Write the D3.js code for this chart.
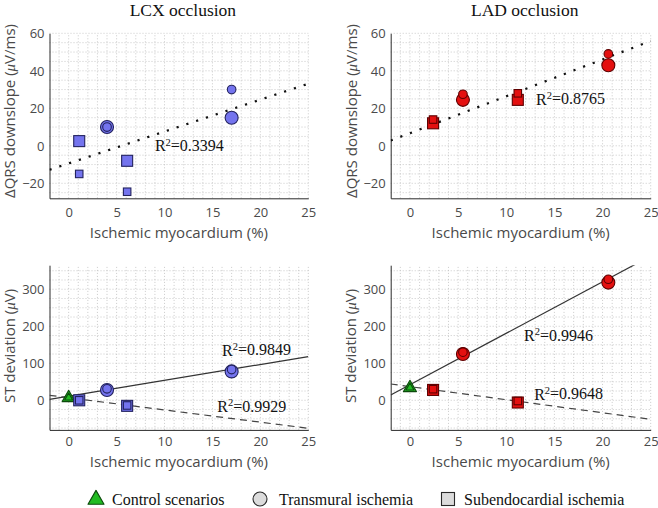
<!DOCTYPE html>
<html><head><meta charset="utf-8">
<script src="https://cdn.jsdelivr.net/npm/d3@7"></script>
<style>body{margin:0;background:#fff;} svg{display:block;}</style>
</head><body><svg id="c" width="658" height="508"></svg>
<script>
// ---------------- data ----------------
const xTicks = [0, 5, 10, 15, 20, 25];
const qrsTicks = [-20, 0, 20, 40, 60];
const stTicks = [0, 100, 200, 300];

const lcxQrsX = [1.1, 1.1, 4.0, 4.0, 6.1, 6.1, 17.0, 17.0];
const lcxQrsY = [2.5, -15, 10, 10, -8, -24.5, 15, 30];
const lcxQrsShape = ["square", "square", "circle", "circle", "square", "square", "circle", "circle"];
const lcxQrsSize = ["large", "small", "large", "small", "large", "small", "large", "small"];
const lcxQrsFit = [1.70, -9.4];          // slope, intercept
const lcxQrsR2 = "0.3394";

const ladQrsX = [2.4, 2.4, 5.5, 5.5, 11.2, 11.2, 20.6, 20.6];
const ladQrsY = [12, 14, 24.5, 27.5, 24.5, 28, 43, 49];
const ladQrsShape = ["square", "square", "circle", "circle", "square", "square", "circle", "circle"];
const ladQrsSize = ["large", "small", "large", "small", "large", "small", "large", "small"];
const ladQrsFit = [1.967, 6.73];
const ladQrsR2 = "0.8765";

const lcxStX = [0, 0, 1.1, 1.1, 4.0, 4.0, 6.1, 6.1, 17.0, 17.0];
const lcxStY = [8, 8, 0, 0, 28, 31, -15, -14, 78, 83];
const lcxStShape = ["triangle", "triangle", "square", "square", "circle", "circle", "square", "square", "circle", "circle"];
const lcxStSize = ["large", "small", "large", "small", "large", "small", "large", "small", "large", "small"];
const lcxStTransFit = [4.28, 11.1];
const lcxStSubFit = [-3.3, 6.9];
const lcxStTransR2 = "0.9849";
const lcxStSubR2 = "0.9929";

const ladStX = [0, 0, 2.4, 2.4, 5.5, 5.5, 11.2, 11.2, 20.6, 20.6];
const ladStY = [35, 35, 28, 30, 125, 130, -6, -2, 318, 327];
const ladStShape = ["triangle", "triangle", "square", "square", "circle", "circle", "square", "square", "circle", "circle"];
const ladStSize = ["large", "small", "large", "small", "large", "small", "large", "small", "large", "small"];
const ladStTransFit = [13.9, 42.1];
const ladStSubFit = [-3.53, 36.9];
const ladStTransR2 = "0.9946";
const ladStSubR2 = "0.9648";

const titles = ["LCX occlusion", "LAD occlusion"];
const legendLabels = ["Control scenarios", "Transmural ischemia", "Subendocardial ischemia"];
const legendShapes = ["triangle", "circle", "square"];

// ---------------- styles ----------------
const SANS = "'Open Sans', 'DejaVu Sans', sans-serif";
const SERIF = "'Liberation Serif', 'DejaVu Serif', serif";
const colors = {
  lcx: { fill: "#7474ee", stroke: "#22225e" },
  lad: { fill: "#e41010", stroke: "#5e0000" },
  ctrl: { fill: "#22bb22", stroke: "#0c4a0c" },
  legend: { fill: "#dcdcdc", stroke: "#2a2a2a" }
};
const svg = d3.select("#c");

function pack(xs, ys, shapes, sizes) {
  return xs.map((x, i) => ({ x, y: ys[i], shape: shapes[i], size: sizes[i] }));
}

const panels = [
  { id: "p1", xr: [49.5, 308.3], yr: [198.3, 33.3], ydom: [-28, 60], yt: qrsTicks, minorY: 5,
    pts: pack(lcxQrsX, lcxQrsY, lcxQrsShape, lcxQrsSize), col: colors.lcx,
    fits: [{ f: lcxQrsFit, style: "dot" }],
    labels: [{ t: lcxQrsR2, x: 9.0, y: 0 }],
    ytitle: "QRS", ytx: 9.5, yty: 111, title: titles[0], xtitleY: 232.5, tickY: 212.7 },
  { id: "p2", xr: [390.7, 650.7], yr: [198.3, 33.3], ydom: [-28, 60], yt: qrsTicks, minorY: 5,
    pts: pack(ladQrsX, ladQrsY, ladQrsShape, ladQrsSize), col: colors.lad,
    fits: [{ f: ladQrsFit, style: "dot" }],
    labels: [{ t: ladQrsR2, x: 13.1, y: 25 }],
    ytitle: "QRS", ytx: 352, yty: 111, title: titles[1], xtitleY: 232.5, tickY: 212.7 },
  { id: "p3", xr: [49.5, 308.3], yr: [429.9, 265.2], ydom: [-80, 365], yt: stTicks, minorY: 25,
    pts: pack(lcxStX, lcxStY, lcxStShape, lcxStSize), col: colors.lcx,
    fits: [{ f: lcxStTransFit, style: "solid" }, { f: lcxStSubFit, style: "dash" }],
    labels: [{ t: lcxStTransR2, x: 16.0, y: 136 }, { t: lcxStSubR2, x: 15.5, y: -17 }],
    ytitle: "ST", ytx: 10, yty: 346, xtitleY: 461.7, tickY: 441.7 },
  { id: "p4", xr: [390.7, 650.7], yr: [429.9, 265.2], ydom: [-80, 365], yt: stTicks, minorY: 25,
    pts: pack(ladStX, ladStY, ladStShape, ladStSize), col: colors.lad,
    fits: [{ f: ladStTransFit, style: "solid" }, { f: ladStSubFit, style: "dash" }],
    labels: [{ t: ladStTransR2, x: 11.85, y: 176 }, { t: ladStSubR2, x: 12.9, y: 17 }],
    ytitle: "ST", ytx: 351, yty: 346, xtitleY: 461.7, tickY: 441.7 }
];

const LARGE = { circle: 6.5, square: 11, triangle: 13 };
const SMALL = { circle: 4.3, square: 7.5, triangle: 8 };

function drawMarker(g, shape, cx, cy, dim, fill, stroke) {
  if (shape === "circle") {
    g.append("circle").attr("cx", cx).attr("cy", cy).attr("r", dim)
      .attr("fill", fill).attr("stroke", stroke).attr("stroke-width", 1.1);
  } else if (shape === "square") {
    g.append("rect").attr("x", cx - dim / 2).attr("y", cy - dim / 2).attr("width", dim).attr("height", dim)
      .attr("fill", fill).attr("stroke", stroke).attr("stroke-width", 1.1);
  } else {
    const h = dim * 0.87;
    g.append("path").attr("d", `M${cx},${cy - h * 0.62}L${cx + dim / 2},${cy + h * 0.38}L${cx - dim / 2},${cy + h * 0.38}Z`)
      .attr("fill", fill).attr("stroke", stroke).attr("stroke-width", 1.1).attr("stroke-linejoin", "round");
  }
}

const defs = svg.append("defs");

panels.forEach(p => {
  const x = d3.scaleLinear().domain([-2, 25]).range(p.xr);
  const y = d3.scaleLinear().domain(p.ydom).range(p.yr);
  const g = svg.append("g");

  defs.append("clipPath").attr("id", "clip-" + p.id).append("rect")
    .attr("x", p.xr[0]).attr("y", p.yr[1]).attr("width", p.xr[1] - p.xr[0]).attr("height", p.yr[0] - p.yr[1]);

  // minor grid
  const gx = d3.range(-1, 26, 1);
  const gy = d3.range(Math.ceil(p.ydom[0] / p.minorY) * p.minorY, p.ydom[1] + 0.01, p.minorY);
  g.append("g").selectAll("line").data(gx).join("line")
    .attr("x1", d => x(d)).attr("x2", d => x(d)).attr("y1", p.yr[0]).attr("y2", p.yr[1])
    .attr("stroke", "#bdbdbd").attr("stroke-width", 0.8).attr("stroke-dasharray", "1,2");
  g.append("g").selectAll("line").data(gy).join("line")
    .attr("x1", p.xr[0]).attr("x2", p.xr[1]).attr("y1", d => y(d)).attr("y2", d => y(d))
    .attr("stroke", "#bdbdbd").attr("stroke-width", 0.8).attr("stroke-dasharray", "1,2");

  // axes
  const xAxis = d3.axisBottom(x).tickValues(xTicks).tickSize(0).tickPadding(0);
  const yAxis = d3.axisLeft(y).tickValues(p.yt).tickSize(0).tickPadding(0);
  const ax = g.append("g").attr("transform", `translate(0,${p.yr[0]})`).call(xAxis);
  ax.select(".domain").attr("stroke", "#2a2a2a").attr("stroke-width", 1);
  ax.selectAll("text").attr("y", p.tickY - p.yr[0]).attr("dy", "0.35em")
    .attr("font-family", SANS).attr("font-size", 13).attr("fill", "#4a4a4a");
  const ay = g.append("g").attr("transform", `translate(${p.xr[0]},0)`).call(yAxis);
  ay.select(".domain").attr("stroke", "#2a2a2a").attr("stroke-width", 1);
  ay.selectAll("text").attr("x", -5).attr("dy", "0.35em")
    .attr("font-family", SANS).attr("font-size", 13).attr("fill", "#4a4a4a");

  // fit lines
  const lg = g.append("g").attr("clip-path", `url(#clip-${p.id})`);
  p.fits.forEach(fit => {
    const [m, b] = fit.f;
    const line = lg.append("line")
      .attr("x1", x(-2)).attr("y1", y(m * -2 + b)).attr("x2", x(25)).attr("y2", y(m * 25 + b));
    if (fit.style === "dot") {
      line.attr("stroke", "#111").attr("stroke-width", 2.2).attr("stroke-dasharray", "2.2,8.1");
    } else if (fit.style === "dash") {
      line.attr("stroke", "#444").attr("stroke-width", 1.2).attr("stroke-dasharray", "7,5");
    } else {
      line.attr("stroke", "#333").attr("stroke-width", 1.2);
    }
  });

  // markers: large first, then small
  const mg = g.append("g");
  const order = p.pts.filter(d => d.size === "large").concat(p.pts.filter(d => d.size === "small"));
  order.forEach(d => {
    const col = d.shape === "triangle" ? colors.ctrl : p.col;
    const dim = (d.size === "large" ? LARGE : SMALL)[d.shape];
    drawMarker(mg, d.shape, x(d.x), y(d.y), dim, col.fill, col.stroke);
  });

  // R² labels
  p.labels.forEach(l => {
    const t = g.append("text").attr("x", x(l.x)).attr("y", y(l.y)).attr("dy", "0.35em")
      .attr("font-family", SERIF).attr("font-size", 16).attr("fill", "#111");
    t.append("tspan").text("R");
    t.append("tspan").attr("font-size", 10.5).attr("dy", "-0.55em").text("2");
    t.append("tspan").attr("dy", "0.35em").text("=" + l.t);
  });

  // x title
  g.append("text").attr("x", (p.xr[0] + p.xr[1]) / 2).attr("y", p.xtitleY).attr("dy", "0.35em")
    .attr("text-anchor", "middle").attr("font-family", SANS).attr("font-size", 15).attr("fill", "#4a4a4a")
    .text("Ischemic myocardium (%)");

  // y title
  const yt = g.append("text").attr("transform", `translate(${p.ytx},${p.yty}) rotate(-90)`).attr("dy", "0.35em")
    .attr("text-anchor", "middle").attr("font-family", SANS).attr("font-size", 15).attr("fill", "#4a4a4a");
  if (p.ytitle === "QRS") {
    yt.append("tspan").text("\u0394QRS downslope (");
    yt.append("tspan").attr("font-style", "italic").attr("font-family", SERIF).text("\u03bc");
    yt.append("tspan").text("V/ms)");
  } else {
    yt.append("tspan").text("ST deviation (");
    yt.append("tspan").attr("font-style", "italic").attr("font-family", SERIF).text("\u03bc");
    yt.append("tspan").text("V)");
  }

  if (p.title) {
    g.append("text").attr("x", (p.xr[0] + p.xr[1]) / 2 + 4).attr("y", 16)
      .attr("text-anchor", "middle").attr("font-family", SERIF).attr("font-size", 17.5).attr("fill", "#111")
      .text(p.title);
  }
});

// legend
const legX = [96, 260, 448];
const legY = 499;
const lgG = svg.append("g");
legendLabels.forEach((lab, i) => {
  const sh = legendShapes[i];
  const col = sh === "triangle" ? colors.ctrl : colors.legend;
  const dim = sh === "circle" ? 7 : (sh === "square" ? 13 : 16);
  drawMarker(lgG, sh, legX[i], legY, dim, col.fill, col.stroke);
  lgG.append("text").attr("x", legX[i] + (sh === "circle" ? 19 : 16)).attr("y", legY).attr("dy", "0.35em")
    .attr("font-family", SERIF).attr("font-size", 16).attr("fill", "#111").text(lab);
});
</script></body></html>
